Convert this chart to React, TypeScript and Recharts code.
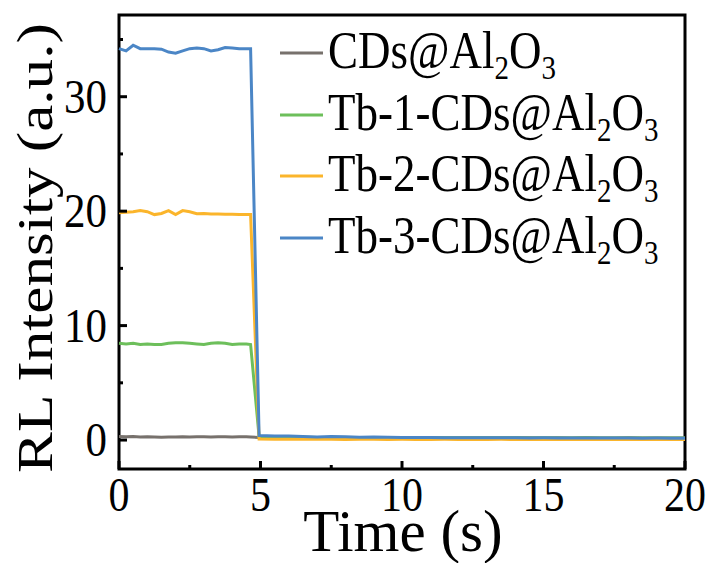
import React from 'react';
import { LineChart, Line, XAxis, YAxis, ReferenceArea, Label } from 'recharts';

const times = [0, 0.25, 0.5, 0.75, 1, 1.25, 1.5, 1.75, 2, 2.25, 2.5, 2.75, 3, 3.25, 3.5, 3.75, 4, 4.25, 4.5, 4.65,
  4.95, 5.5, 6, 6.5, 7, 7.5, 8, 8.5, 9, 9.5, 10, 10.5, 11, 11.5, 12, 12.5, 13, 13.5, 14, 14.5, 15, 15.5, 16, 16.5, 17, 17.5, 18, 18.5, 19, 19.5, 20];

const cdsValues = [0.3, 0.28, 0.3, 0.27, 0.28, 0.27, 0.25, 0.26, 0.27, 0.28, 0.27, 0.28, 0.28, 0.27, 0.28, 0.28, 0.27, 0.28, 0.28, 0.27,
  0.22, 0.2, 0.2, 0.21, 0.2, 0.2, 0.19, 0.2, 0.2, 0.19, 0.2, 0.2, 0.19, 0.2, 0.19, 0.19, 0.2, 0.19, 0.19, 0.19, 0.18, 0.19, 0.18, 0.19, 0.18, 0.18, 0.19, 0.18, 0.18, 0.18, 0.18];
const tb1Values = [8.45, 8.4, 8.45, 8.35, 8.4, 8.35, 8.35, 8.45, 8.5, 8.5, 8.45, 8.4, 8.35, 8.45, 8.5, 8.45, 8.35, 8.4, 8.4, 8.35,
  0.3, 0.25, 0.25, 0.24, 0.22, 0.22, 0.2, 0.21, 0.2, 0.2, 0.2, 0.19, 0.2, 0.2, 0.19, 0.19, 0.2, 0.19, 0.19, 0.18, 0.19, 0.18, 0.18, 0.19, 0.18, 0.18, 0.18, 0.18, 0.17, 0.18, 0.18];
const tb2Values = [19.85, 19.9, 19.95, 20.05, 19.95, 19.7, 19.8, 20.05, 19.7, 20.05, 19.95, 19.78, 19.8, 19.75, 19.75, 19.72, 19.72, 19.7, 19.7, 19.7,
  0.08, 0.07, 0.07, 0.06, 0.06, 0.06, 0.05, 0.06, 0.06, 0.05, 0.06, 0.05, 0.05, 0.06, 0.05, 0.05, 0.05, 0.06, 0.05, 0.05, 0.05, 0.05, 0.05, 0.05, 0.05, 0.05, 0.05, 0.05, 0.05, 0.05, 0.05];
const tb3Values = [34.2, 34.0, 34.5, 34.2, 34.2, 34.2, 34.15, 33.9, 33.8, 34.0, 34.2, 34.25, 34.2, 34.0, 34.1, 34.3, 34.25, 34.2, 34.2, 34.2,
  0.4, 0.35, 0.35, 0.3, 0.27, 0.3, 0.28, 0.25, 0.26, 0.24, 0.22, 0.23, 0.22, 0.21, 0.2, 0.21, 0.2, 0.19, 0.2, 0.18, 0.19, 0.18, 0.17, 0.18, 0.17, 0.18, 0.17, 0.16, 0.17, 0.16, 0.16];

const seriesNames = ['CDs@Al2O3', 'Tb-1-CDs@Al2O3', 'Tb-2-CDs@Al2O3', 'Tb-3-CDs@Al2O3'];
const seriesKeys = ['cds', 'tb1', 'tb2', 'tb3'];
const seriesColors = ['#77716c', '#6dbf5b', '#fbb52b', '#4b86c6'];
const seriesValues = [cdsValues, tb1Values, tb2Values, tb3Values];

const xTicks = [0, 2.5, 5, 7.5, 10, 12.5, 15, 17.5, 20];
const yTicks = [0, 5, 10, 15, 20, 25, 30, 35];
const xDomain = [0, 20];
const yDomain = [-2.53, 37.14];

const data = times.map((t, i) => {
  const row: any = { t };
  seriesKeys.forEach((k, j) => { row[k] = seriesValues[j][i]; });
  return row;
});

const FONT = '"Liberation Serif", "Times New Roman", serif';
const STRETCH = 1.15;

const XTick = (props: any) => {
  const { x, y, payload } = props;
  const v = payload.value;
  const major = v % 5 === 0;
  return (
    <g>
      <line x1={x} x2={x} y1={y} y2={y - (major ? 8 : 4)} stroke="#000" strokeWidth={3} />
      {major && (
        <text transform={`translate(${x},${y + 42}) scale(1,${STRETCH})`} textAnchor="middle" fontFamily={FONT} fontSize={42} fill="#000">{v}</text>
      )}
    </g>
  );
};

const YTick = (props: any) => {
  const { x, y, payload } = props;
  const v = payload.value;
  const major = v % 10 === 0;
  return (
    <g>
      <line x1={x} x2={x + (major ? 8 : 4)} y1={y} y2={y} stroke="#000" strokeWidth={3} />
      {major && (
        <text transform={`translate(${x - 12},${y + 16}) scale(1,${STRETCH})`} textAnchor="end" fontFamily={FONT} fontSize={43} fill="#000">{v}</text>
      )}
    </g>
  );
};

const renderLegendLabel = (name: string) => {
  const m = name.match(/^(.*Al)2O3$/);
  const head = m ? m[1] : name;
  return (
    <>
      {head}
      <tspan fontSize={29} dy={9}>2</tspan>
      <tspan dy={-9}>O</tspan>
      <tspan fontSize={29} dy={9}>3</tspan>
    </>
  );
};

export default function App() {
  const rowY = [53, 115, 176, 238];
  return (
    <div style={{ position: 'absolute', left: 0, top: 0, width: 713, height: 563, background: '#fff' }}>
      <LineChart width={713} height={563} data={data} margin={{ top: 15, right: 28, bottom: 0, left: 0 }}>
        <XAxis dataKey="t" type="number" domain={xDomain} ticks={xTicks} interval={0} axisLine={false} tickLine={false}
          tickSize={0} tickMargin={0} height={94} tick={<XTick />}>
          <Label content={() => (
            <text x={403} y={551} textAnchor="middle" fontFamily={FONT} fontSize={59} fill="#000">Time (s)</text>
          )} />
        </XAxis>
        <YAxis type="number" domain={yDomain} allowDataOverflow ticks={yTicks} interval={0} axisLine={false} tickLine={false}
          tickSize={0} tickMargin={0} width={119} tick={<YTick />}>
          <Label content={() => (
            <text transform={`translate(52,248) rotate(-90) scale(1.2,1)`} textAnchor="middle" fontFamily={FONT} fontSize={51} fill="#000">RL Intensity (a.u.)</text>
          )} />
        </YAxis>
        <ReferenceArea x1={xDomain[0]} x2={xDomain[1]} y1={yDomain[0]} y2={yDomain[1]} fill="none" stroke="#000" strokeWidth={3} ifOverflow="visible" />
        {seriesKeys.map((k, j) => (
          <Line key={k} dataKey={k} name={seriesNames[j]} stroke={seriesColors[j]} strokeWidth={3} dot={false} type="linear" isAnimationActive={false} />
        ))}
      </LineChart>
      <svg width={713} height={563} style={{ position: 'absolute', left: 0, top: 0, pointerEvents: 'none' }}>
        {seriesNames.map((n, j) => (
          <g key={n}>
            <line x1={280} x2={323} y1={rowY[j]} y2={rowY[j]} stroke={seriesColors[j]} strokeWidth={3} />
            <text transform={`translate(328,${rowY[j] + 15}) scale(1,1.17)`} fontFamily={FONT} fontSize={45} fill="#000">
              {renderLegendLabel(n)}
            </text>
          </g>
        ))}
      </svg>
    </div>
  );
}
